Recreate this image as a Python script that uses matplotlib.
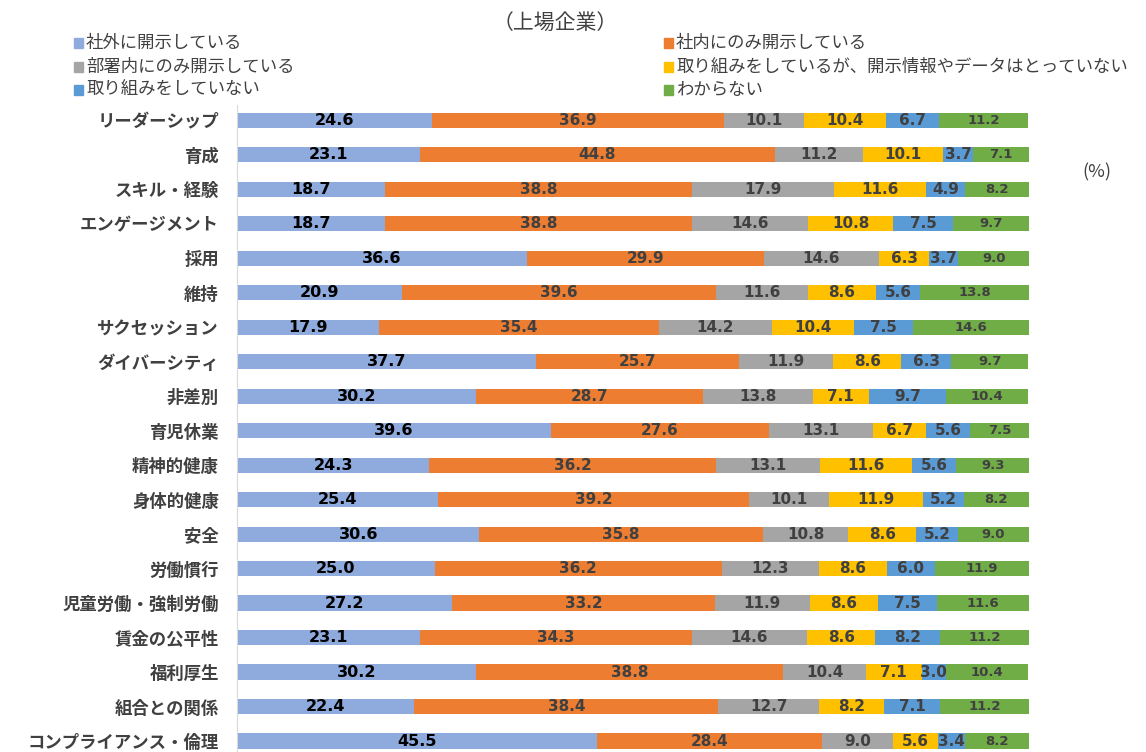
import matplotlib
matplotlib.use("Agg")
import matplotlib.pyplot as plt
from matplotlib.patches import Rectangle

plt.rcParams['font.family'] = ['Noto Sans CJK JP', 'DejaVu Sans']

categories = ['リーダーシップ', '育成', 'スキル・経験', 'エンゲージメント', '採用', '維持',
              'サクセッション', 'ダイバーシティ', '非差別', '育児休業', '精神的健康',
              '身体的健康', '安全', '労働慣行', '児童労働・強制労働', '賃金の公平性',
              '福利厚生', '組合との関係', 'コンプライアンス・倫理']

series_names = ['社外に開示している', '社内にのみ開示している', '部署内にのみ開示している',
                '取り組みをしているが、開示情報やデータはとっていない',
                '取り組みをしていない', 'わからない']

external = [24.6, 23.1, 18.7, 18.7, 36.6, 20.9, 17.9, 37.7, 30.2, 39.6,
            24.3, 25.4, 30.6, 25.0, 27.2, 23.1, 30.2, 22.4, 45.5]
internal = [36.9, 44.8, 38.8, 38.8, 29.9, 39.6, 35.4, 25.7, 28.7, 27.6,
            36.2, 39.2, 35.8, 36.2, 33.2, 34.3, 38.8, 38.4, 28.4]
department = [10.1, 11.2, 17.9, 14.6, 14.6, 11.6, 14.2, 11.9, 13.8, 13.1,
              13.1, 10.1, 10.8, 12.3, 11.9, 14.6, 10.4, 12.7, 9.0]
no_data = [10.4, 10.1, 11.6, 10.8, 6.3, 8.6, 10.4, 8.6, 7.1, 6.7,
           11.6, 11.9, 8.6, 8.6, 8.6, 8.6, 7.1, 8.2, 5.6]
not_doing = [6.7, 3.7, 4.9, 7.5, 3.7, 5.6, 7.5, 6.3, 9.7, 5.6,
             5.6, 5.2, 5.2, 6.0, 7.5, 8.2, 3.0, 7.1, 3.4]
unknown = [11.2, 7.1, 8.2, 9.7, 9.0, 13.8, 14.6, 9.7, 10.4, 7.5,
           9.3, 8.2, 9.0, 11.9, 11.6, 11.2, 10.4, 11.2, 8.2]

all_series = [external, internal, department, no_data, not_doing, unknown]
colors = ['#8FAADC', '#ED7D31', '#A5A5A5', '#FFC000', '#5B9BD5', '#70AD47']
label_colors = ['#000000', '#404040', '#404040', '#404040', '#404040', '#404040']
label_sizes = [11.5, 11, 11, 11, 11, 9.5]

fig = plt.figure(figsize=(11.46, 7.52), dpi=100)
ax = fig.add_axes([0.2068, 0.0008, 0.691, 0.860])

ypos = list(range(len(categories)))
left = [0.0] * len(categories)
for k, vals in enumerate(all_series):
    ax.barh(ypos, vals, left=left, height=0.44, color=colors[k], linewidth=0)
    for i, v in enumerate(vals):
        ax.text(left[i] + v / 2, i, f'{v:.1f}', ha='center', va='center',
                fontsize=label_sizes[k], fontweight='bold', color=label_colors[k],
                family='DejaVu Sans')
    left = [a + b for a, b in zip(left, vals)]

ax.set_xlim(0, 100)
ax.set_ylim(18.3, -0.45)
ax.set_yticks(ypos)
ax.set_yticklabels(categories, fontsize=12.5, fontweight='bold', color='#404040')
ax.tick_params(axis='y', length=0, pad=13)
ax.set_xticks([])
for s in ['top', 'right', 'bottom']:
    ax.spines[s].set_visible(False)
ax.spines['left'].set_color('#D9D9D9')

fig.text(0.484, 0.970, '（上場企業）', ha='center', va='center', fontsize=15, color='#404040')
fig.text(0.957, 0.771, '(%)', ha='center', va='center', fontsize=13, color='#404040')

# legend, laid out in two columns
leg_x = [74, 664]
leg_y = [43, 67, 90]
W, H = 1146.0, 752.0
for k, name in enumerate(series_names):
    col = k % 2
    row = k // 2
    x = leg_x[col]
    y = leg_y[row]
    fig.patches.append(Rectangle((x / W, 1 - (y + 4.5) / H), 9 / W, 9 / H,
                                 transform=fig.transFigure, color=colors[k]))
    fig.text((x + 12) / W, 1 - y / H, name, ha='left', va='center',
             fontsize=12.5, color='#404040')

fig.savefig('out.png', dpi=100)
